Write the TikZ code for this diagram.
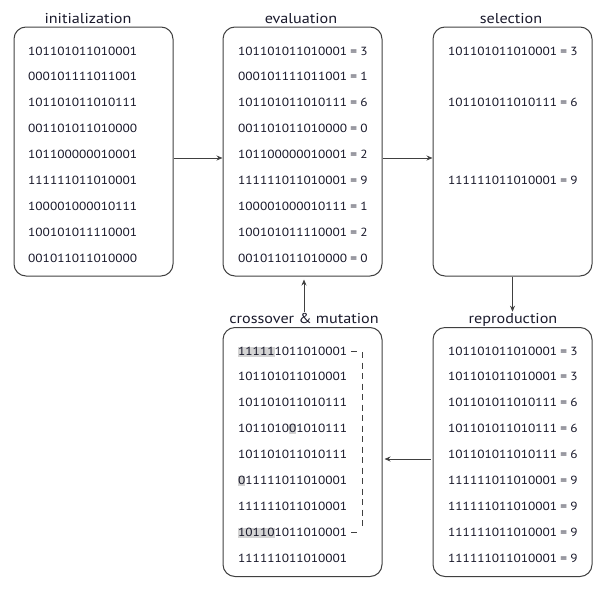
\documentclass[tikz,border=0pt]{standalone}
\usepackage{fontspec}
\setmainfont[FakeStretch=1.13]{PT Sans}
\usetikzlibrary{arrows.meta,calc}
\definecolor{txt}{rgb}{0.1,0.1,0.17}
\definecolor{edge}{gray}{0.25}
\definecolor{hl}{gray}{0.83}
\newcommand\hlt[1]{{\setlength{\fboxsep}{0pt}\colorbox{hl}{\rule[-1.6pt]{0pt}{9.8pt}#1}}}
\newcommand\eqv[1]{\hspace{3.2pt}=\hspace{3.2pt}#1}
\begin{document}
\begin{tikzpicture}[x=1pt,y=-1pt,
  stage/.style={draw=edge, line width=1pt, rounded corners=12pt, minimum width=159pt, minimum height=249pt, inner sep=0pt},
  title/.style={font=\fontsize{14.3}{16}\selectfont, text=txt, anchor=base, inner sep=1pt},
  row/.style={font=\fontsize{11.8}{13}\selectfont, text=txt, anchor=base west, inner sep=0pt},
  arr/.style={draw=edge, line width=0.9pt, -{Stealth[length=6pt,width=5pt]}},
  brk/.style={draw=edge, line width=0.8pt}]
\useasboundingbox (0,0) rectangle (612,597);
\node[stage] (init) at (93.5,151.5) {};
\node[stage] (eval) at (302.5,151.5) {};
\node[stage] (sel) at (512.5,151.5) {};
\node[stage] (cross) at (302.5,452) {};
\node[stage] (repr) at (512.5,452) {};
\node[title] (tinit) at (88,23) {initialization};
\node[title] (teval) at (301,23) {evaluation};
\node[title] (tsel) at (511,23) {selection};
\node[title] (tcross) at (304,323) {crossover \& mutation};
\node[title] (trepr) at (513,323) {reproduction};
\foreach \t [count=\i] in {101101011010001,000101111011001,101101011010111,001101011010000,101100000010001,111111011010001,100001000010111,100101011110001,001011011010000}
  \node[row] (i\i) at (28,{55+25.9*(\i-1)}) {\t};
\foreach \t/\v [count=\i] in {101101011010001/3,000101111011001/1,101101011010111/6,001101011010000/0,101100000010001/2,111111011010001/9,100001000010111/1,100101011110001/2,001011011010000/0}
  \node[row] (e\i) at (238,{55+25.9*(\i-1)}) {\t\eqv{\v}};
\foreach \t/\v/\k in {101101011010001/3/1,101101011010111/6/3,111111011010001/9/6}
  \node[row] (s\k) at (448,{55+25.9*(\k-1)}) {\t\eqv{\v}};
\foreach \t [count=\i] in {{\hlt{11111}1011010001},101101011010001,101101011010111,{1011010\hlt{0}1010111},101101011010111,{\hlt{0}11111011010001},111111011010001,{\hlt{10110}1011010001},111111011010001}
  \node[row] (c\i) at (238,{355+25.9*(\i-1)}) {\t};
\foreach \t/\v [count=\i] in {101101011010001/3,101101011010001/3,101101011010111/6,101101011010111/6,101101011010111/6,111111011010001/9,111111011010001/9,111111011010001/9,111111011010001/9}
  \node[row] (r\i) at (448,{355+25.9*(\i-1)}) {\t\eqv{\v}};
% connectors
\draw[arr] ([yshift=-6.5pt]init.east) -- ([yshift=-6.5pt]eval.west);
\draw[arr] ([yshift=-6.5pt]eval.east) -- ([yshift=-6.5pt]sel.west);
\draw[arr] (sel.south) -- (sel.south |- trepr.north);
\draw[arr, shorten <=2pt, shorten >=2pt] ([yshift=-7pt]repr.west) -- ([yshift=-7pt]cross.east);
\draw[arr, shorten >=3pt] (tcross.north) -- (tcross.north |- eval.south);
% crossover bracket
\coordinate (bt) at (362.5,351);
\coordinate (bb) at (362.5,532);
\draw[brk] (351,351) -- (357,351);
\draw[brk] (351,532) -- (357,532);
\draw[brk, dash pattern=on 6pt off 4.5pt] ([yshift=-1pt]bt) -- ([yshift=3pt]bb);
\end{tikzpicture}
\end{document}
